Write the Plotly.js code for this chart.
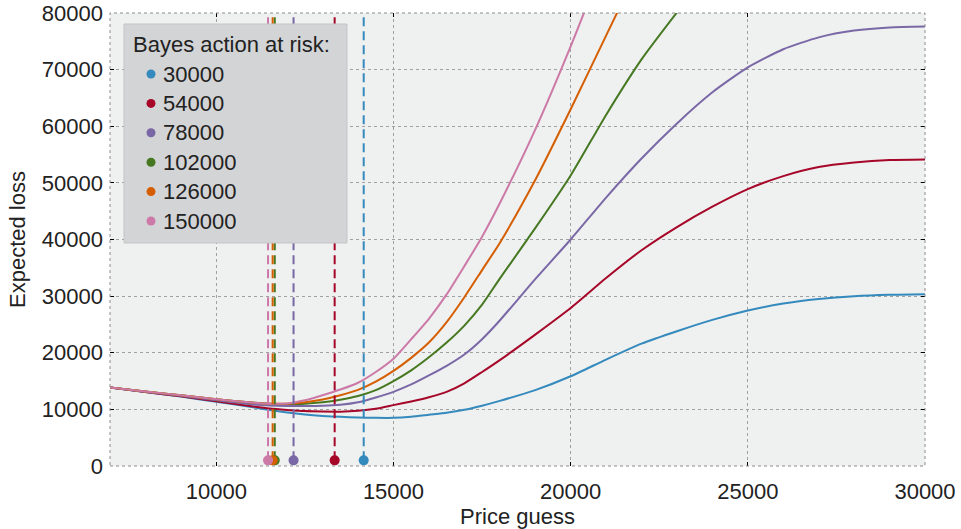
<!DOCTYPE html>
<html>
<head>
<meta charset="utf-8">
<script src="https://cdn.plot.ly/plotly-3.0.1.min.js"></script>
<style>html,body{margin:0;padding:0;background:#fff;}#chart{width:961px;height:529px;}</style>
</head>
<body>
<div id="chart"></div>
<script>
var priceGuess = [7000, 8000, 9000, 10000, 11000, 11500, 12000, 12500, 13000, 13500, 14000, 14500, 15000, 15500, 16000, 16500, 17000, 17500, 18000, 19000, 20000, 21000, 22000, 23000, 24000, 25000, 26000, 27000, 28000, 29000, 30000];

var risks = [30000, 54000, 78000, 102000, 126000, 150000];
var legendTitle = "Bayes action at risk:";
var legendLabels = ["30000", "54000", "78000", "102000", "126000", "150000"];

var loss30000  = [13850, 13050, 12250, 11350, 10400, 9900, 9450, 9100, 8850, 8680, 8560, 8500, 8500, 8700, 9050, 9400, 9920, 10650, 11500, 13400, 15850, 18800, 21600, 23800, 25800, 27450, 28700, 29500, 30000, 30250, 30350];
var loss54000  = [13850, 13050, 12300, 11450, 10550, 10150, 9900, 9700, 9620, 9600, 9750, 10100, 10750, 11400, 12150, 13100, 14600, 16600, 18700, 23200, 27900, 33200, 38100, 42200, 45800, 48900, 51200, 52800, 53600, 54050, 54150];
var loss78000  = [13850, 13100, 12400, 11600, 10900, 10700, 10600, 10580, 10620, 10800, 11250, 12100, 13100, 14400, 16000, 17700, 19700, 22400, 25700, 33000, 40000, 47400, 54300, 60500, 66000, 70400, 73600, 75700, 76900, 77450, 77600];
var loss102000 = [13850, 13150, 12500, 11800, 11200, 11000, 10950, 11000, 11250, 11700, 12350, 13400, 15000, 16900, 19200, 21800, 24800, 28500, 33100, 42000, 51300, 62000, 71800, 80100, 88000, null, null, null, null, null, null];
var loss126000 = [13850, 13150, 12500, 11800, 11200, 11000, 11000, 11250, 11750, 12500, 13450, 14900, 16800, 19100, 21800, 25400, 29800, 34600, 39400, 50500, 63000, 76000, 89000, null, null, null, null, null, null, null, null];
var loss150000 = [13850, 13150, 12500, 11800, 11200, 11000, 11050, 11600, 12500, 13500, 14700, 16600, 18950, 22400, 26000, 30300, 35300, 40500, 46400, 59400, 74100, 90000, null, null, null, null, null, null, null, null, null];

var bayesAction = [14160, 13340, 12180, 11650, 11590, 11460];
var dotLevel = 1000;
var vlineTop = 120000;

var losses = [loss30000, loss54000, loss78000, loss102000, loss126000, loss150000];
var colors = ["#348ABD", "#A60628", "#7A68A6", "#467821", "#D55E00", "#CC79A7"];

var traces = [];
for (var i = 0; i < risks.length; i++) {
  traces.push({
    x: priceGuess, y: losses[i], mode: "lines", type: "scatter",
    line: {color: colors[i], width: 2, shape: "spline", smoothing: 0.6},
    showlegend: false, hoverinfo: "skip"
  });
}
for (var i = 0; i < risks.length; i++) {
  traces.push({
    x: [bayesAction[i], bayesAction[i]], y: [dotLevel, vlineTop], mode: "lines", type: "scatter",
    line: {color: colors[i], width: 2, dash: "9px,5px"},
    showlegend: false, hoverinfo: "skip"
  });
}
for (var i = 0; i < risks.length; i++) {
  traces.push({
    x: [bayesAction[i]], y: [dotLevel], mode: "markers", type: "scatter",
    marker: {color: colors[i], size: 10},
    name: legendLabels[i], showlegend: false, cliponaxis: false, hoverinfo: "skip"
  });
}

var fontFam = "Liberation Sans, Arial, Helvetica, sans-serif";
var txtColor = "#222222";

// plot area geometry (px) for placing the legend box in paper coordinates
var plotL = 110, plotT = 13, plotW = 815, plotH = 453;
function px2x(p) { return (p - plotL) / plotW; }
function py2y(p) { return 1 - (p - plotT) / plotH; }

var shapes = [{
  type: "rect", xref: "paper", yref: "paper", x0: 0, x1: 1, y0: 0, y1: 1,
  line: {color: "#8c8c8c", width: 1, dash: "dot"}, fillcolor: "rgba(0,0,0,0)", layer: "above"
}, {
  type: "rect", xref: "paper", yref: "paper",
  x0: px2x(124), x1: px2x(347), y0: py2y(243), y1: py2y(24),
  line: {color: "#c4c5c7", width: 1}, fillcolor: "#d3d4d6", layer: "above"
}];
var annotations = [{
  xref: "paper", yref: "paper", x: px2x(131), y: py2y(44), xanchor: "left", yanchor: "middle",
  text: legendTitle, showarrow: false, font: {family: fontFam, size: 22, color: txtColor}
}];
var itemY0 = 74, itemStep = 29.4;
for (var i = 0; i < legendLabels.length; i++) {
  var cy = py2y(itemY0 + i * itemStep);
  shapes.push({
    type: "circle", xref: "paper", yref: "paper", xsizemode: "pixel", ysizemode: "pixel",
    xanchor: px2x(151), yanchor: cy, x0: -4.5, x1: 4.5, y0: -4.5, y1: 4.5,
    fillcolor: colors[i], line: {width: 0}, layer: "above"
  });
  annotations.push({
    xref: "paper", yref: "paper", x: px2x(161), y: cy, xanchor: "left", yanchor: "middle",
    text: legendLabels[i], showarrow: false, font: {family: fontFam, size: 22, color: txtColor}
  });
}

var layout = {
  width: 961, height: 529,
  margin: {l: 110, r: 36, t: 13, b: 63},
  paper_bgcolor: "#ffffff",
  plot_bgcolor: "#eff0f0",
  font: {family: fontFam, size: 22, color: txtColor},
  showlegend: false,
  xaxis: {
    range: [7000, 30000], tickvals: [10000, 15000, 20000, 25000, 30000], tickformat: "d",
    showgrid: true, gridcolor: "#a0a0a0", gridwidth: 1, griddash: "dot",
    zeroline: false, showline: false,
    ticks: "inside", ticklen: 4, tickwidth: 1, tickcolor: "#000000", mirror: "ticks",
    ticklabelstandoff: 10, ticklabeloverflow: "allow",
    tickfont: {family: fontFam, size: 22, color: txtColor},
    title: {text: "Price guess", font: {family: fontFam, size: 22, color: txtColor}, standoff: 5}
  },
  yaxis: {
    range: [0, 80000], tickvals: [0, 10000, 20000, 30000, 40000, 50000, 60000, 70000, 80000], tickformat: "d",
    showgrid: true, gridcolor: "#a0a0a0", gridwidth: 1, griddash: "dot",
    zeroline: false, showline: false,
    ticks: "inside", ticklen: 4, tickwidth: 1, tickcolor: "#000000", mirror: "ticks",
    ticklabelstandoff: 6, ticklabeloverflow: "allow",
    tickfont: {family: fontFam, size: 22, color: txtColor},
    title: {text: "Expected loss", font: {family: fontFam, size: 22, color: txtColor}, standoff: 10}
  },
  shapes: shapes,
  annotations: annotations
};

Plotly.newPlot("chart", traces, layout, {displayModeBar: false, staticPlot: true});
</script>
</body>
</html>
